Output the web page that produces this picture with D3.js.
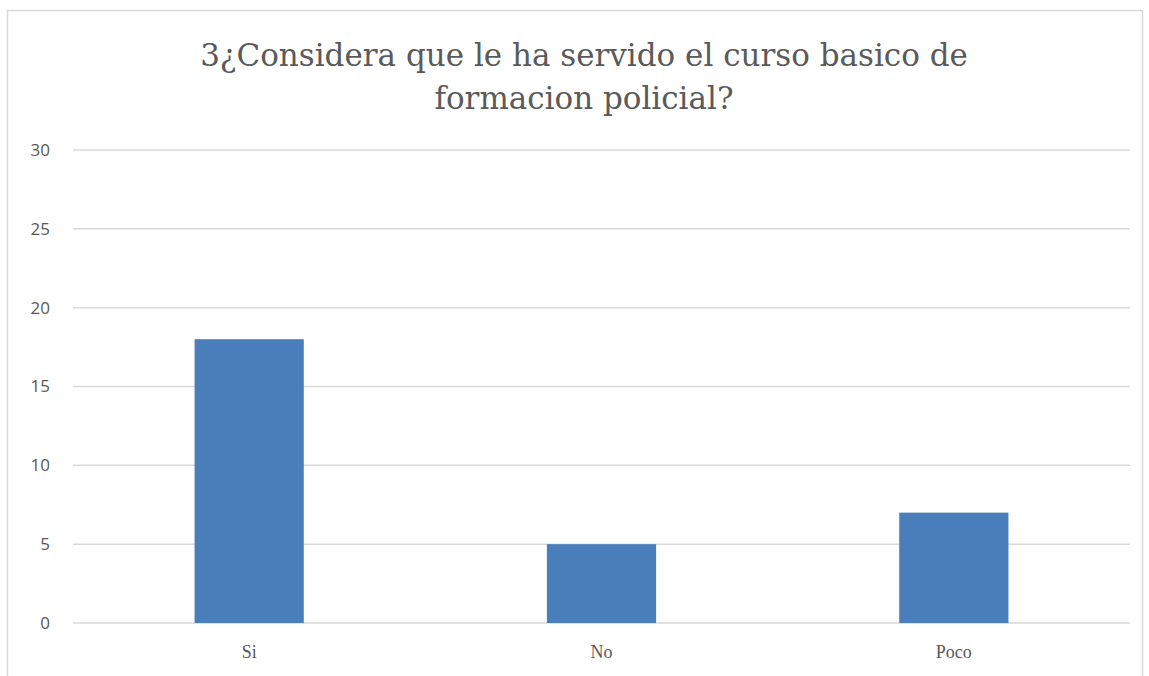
<!DOCTYPE html>
<html><head><meta charset="utf-8">
<script src="https://cdn.jsdelivr.net/npm/d3@7"></script>
<style>html,body{margin:0;padding:0;background:#fff;}</style>
</head><body>
<svg id="c" width="1149" height="676"></svg>
<script>
const categories = ["Si", "No", "Poco"];
const values = [18, 5, 7];
const yTicks = [0, 5, 10, 15, 20, 25, 30];
const titleLines = ["3¿Considera que le ha servido el curso basico de", "formacion policial?"];

const svg = d3.select("#c");
const W = 1149, H = 676;
const m = {left: 73, right: 19, top: 150, bottom: 53};

svg.append("rect").attr("x", 7.5).attr("y", 10.5).attr("width", 1135).attr("height", 700)
  .attr("fill", "#fff").attr("stroke", "#d9d9d9").attr("stroke-width", 1.5);

const x = d3.scaleBand().domain(categories).range([m.left, W - m.right]).paddingInner(0.69).paddingOuter(0.345);
const y = d3.scaleLinear().domain([0, 30]).range([H - m.bottom, m.top]);

svg.append("g").selectAll("line").data(yTicks).join("line")
  .attr("x1", m.left).attr("x2", W - m.right)
  .attr("y1", d => y(d)).attr("y2", d => y(d))
  .attr("stroke", "#d9d9d9").attr("stroke-width", 1.5);

const yAxis = d3.axisLeft(y).tickValues(yTicks).tickSize(0).tickPadding(0);
const ya = svg.append("g").attr("transform", `translate(50,0)`).call(yAxis);
ya.select(".domain").remove();
ya.selectAll("text").attr("font-family", "'Open Sans', sans-serif").attr("font-size", 17).attr("fill", "#595959");

svg.append("g").selectAll("rect").data(values).join("rect")
  .attr("x", (d, i) => x(categories[i])).attr("width", x.bandwidth())
  .attr("y", d => y(d)).attr("height", d => y(0) - y(d))
  .attr("fill", "#4a7ebb");

const xAxis = d3.axisBottom(x).tickSize(0).tickPadding(0);
const xa = svg.append("g").attr("transform", `translate(0,${y(0) + 22})`).call(xAxis);
xa.select(".domain").remove();
xa.selectAll("text").attr("font-family", "'Liberation Serif', serif").attr("font-size", 18).attr("fill", "#595959");

const tt = svg.append("g").selectAll("text").data(titleLines).join("text")
  .attr("x", 584).attr("y", (d, i) => 66 + i * 43)
  .attr("text-anchor", "middle")
  .attr("font-family", "'DejaVu Serif', serif").attr("font-size", 30)
  .attr("fill", "#5a5a5a")
  .text(d => d);
const w0 = tt.node().getComputedTextLength();
tt.attr("font-size", 30 * 768 / w0);
</script>
</body></html>
